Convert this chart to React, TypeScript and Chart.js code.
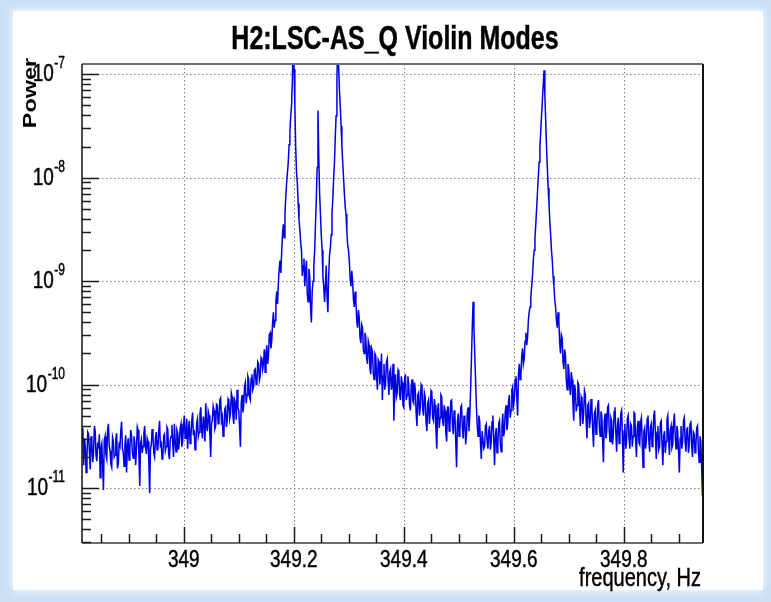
import React, { useEffect, useRef } from 'react';
import { Chart, registerables } from 'chart.js';

Chart.register(...registerables);

// ---- Data (frequency bins: FREQ_START + i * FREQ_STEP; values are log10(Power)) ----
const FREQ_START = 348.815;
const FREQ_STEP = 0.0015;

const X_MIN = 348.815;
const X_MAX = 349.944;
const LOG_MIN = -11.532;
const LOG_MAX = -6.9;

const TITLE = 'H2:LSC-AS_Q Violin Modes';
const X_TITLE = 'frequency, Hz';
const Y_TITLE = 'Power';
const X_MAJOR = [349, 349.2, 349.4, 349.6, 349.8];
const X_LABELS = ['349', '349.2', '349.4', '349.6', '349.8'];
const Y_EXPONENTS = [-7, -8, -9, -10, -11];

const bgLeft = [
  -10.55, -10.42, -10.78, -10.52, -10.60, -10.85, -10.70, -10.46, -10.48, -10.66, -10.82, -10.50, -10.58, -10.75, -10.66, -10.40, -10.45, -10.69, -10.74, -10.56,
  -10.62, -10.48, -10.90, -10.61, -10.57, -10.79, -11.02, -10.54, -10.50, -10.68, -10.72, -10.44, -10.38, -10.59, -10.64, -10.77, -10.80, -10.51, -10.55, -10.70,
  -10.68, -10.53, -10.47, -10.81, -10.76, -10.58, -10.60, -10.45, -10.36, -10.62, -10.66, -10.79, -10.58, -10.49, -10.85, -10.60, -10.52, -10.73, -10.63, -10.44,
  -10.49, -10.65, -10.71, -10.50, -10.56, -10.78, -10.62, -10.41, -10.44, -10.70, -10.98, -10.57, -10.53, -10.66, -10.60, -10.47, -10.40, -10.61, -10.67, -10.52,
  -10.55, -10.74, -11.05, -10.62, -10.58, -10.43, -10.49, -10.66, -10.70, -10.52, -10.46, -10.63, -10.61, -10.45, -10.35, -10.59, -10.57, -10.72, -10.68, -10.50,
  -10.48, -10.64, -10.60, -10.41, -10.43, -10.67, -10.72, -10.53, -10.50, -10.39, -10.58, -10.70, -10.38, -10.55, -10.65, -10.44, -10.47, -10.63, -10.55, -10.42,
];
const riseLeft = [
  -10.38, -10.60, -10.55, -10.40, -10.30, -10.52, -10.48, -10.33, -10.62, -10.45, -10.35, -10.57, -10.50, -10.36, -10.27, -10.49, -10.44, -10.63, -10.58, -10.37,
  -10.33, -10.50, -10.46, -10.28, -10.22, -10.44, -10.52, -10.31, -10.36, -10.55, -10.18, -10.40, -10.45, -10.26, -10.30, -10.48, -10.70, -10.38, -10.34, -10.21,
  -10.25, -10.43, -10.40, -10.19, -10.20, -10.38, -10.36, -10.15, -10.13, -10.35, -10.31, -10.50, -10.46, -10.24, -10.22, -10.41, -10.35, -10.14, -10.16, -10.33,
  -10.28, -10.08, -10.12, -10.31, -10.38, -10.15, -10.18, -10.34, -10.05, -10.22, -10.25, -10.42, -10.60, -10.17, -10.10, -10.27, -10.20, -10.02, -9.98, -10.18,
  -10.10, -9.92, -9.95, -10.12, -10.15, -9.94, -9.90, -10.05, -10.02, -9.86, -9.85, -10.00, -9.98, -9.78, -9.80, -9.96, -9.92, -9.74, -9.76, -9.85,
];
const peakA = [
  -9.78, -9.66, -9.88, -9.70, -9.62, -9.80, -9.72, -9.52, -9.50, -9.65, -9.58, -9.40, -9.30, -9.45, -9.38, -9.20, -9.10, -9.22, -9.02, -8.88,
  -8.80, -8.92, -8.72, -8.55, -8.45, -8.58, -8.35, -8.18, -8.05, -7.95, -7.85, -7.68, -7.55, -7.40, -7.30, -7.05, -6.60, -6.95,
];
const peakB = [
  -7.30, -7.70, -7.95, -8.05, -8.25, -8.40, -8.50, -8.62, -8.70, -8.95, -8.85, -8.78, -9.05, -8.90, -8.80, -9.12, -9.20, -8.88, -8.95, -9.25,
  -9.40, -9.10, -9.00, -8.85, -8.70, -8.45, -8.20, -7.90, -7.35, -7.80, -8.15, -8.35, -8.55, -8.70, -8.95, -9.05,
];
const peakC = [-9.20, -9.05, -8.85, -9.15, -9.30, -8.95, -8.75, -8.68, -8.55, -8.35, -8.20, -8.00, -7.85, -7.60, -7.40, -7.05, -6.60, -6.90];
const tailC = [
  -7.15, -7.30, -7.50, -7.70, -7.85, -8.00, -8.15, -8.28, -8.35, -8.52, -8.65, -8.70, -8.80, -8.98, -9.05, -8.90, -9.00, -9.18, -9.25, -9.10,
  -9.20, -9.38, -9.45, -9.28, -9.35, -9.55, -9.60, -9.42, -9.45, -9.66, -9.70, -9.50, -9.55, -9.75, -9.80, -9.58, -9.62, -9.85, -9.90, -9.65,
  -9.68, -9.88, -9.95, -9.70, -9.72, -9.92, -10.05, -9.76, -9.78, -10.00, -9.90, -9.70, -10.15, -9.92, -9.80, -10.05, -9.98, -9.78, -9.75, -9.96,
  -10.10, -9.88, -9.85, -10.05, -10.00, -9.80, -10.35, -10.02, -9.90, -10.12, -10.08, -9.86, -9.88, -10.10, -10.15, -9.92, -9.98, -10.20, -10.22, -9.95,
  -9.90, -10.15, -10.10, -9.92, -10.00, -10.20, -10.25, -10.02, -9.95, -10.16, -10.18, -9.98, -10.05, -10.28, -10.40, -10.10, -10.08, -10.30, -10.22, -10.00,
  -10.02, -10.25, -10.30, -10.08, -10.12, -10.36, -10.45, -10.18, -10.15, -10.38, -10.28, -10.06, -10.08, -10.32, -10.35, -10.14, -10.20, -10.44, -10.62, -10.25,
  -10.18, -10.42, -10.32, -10.10, -10.12, -10.35, -10.40, -10.20, -10.25, -10.47, -10.55, -10.22, -10.22, -10.45, -10.38, -10.16, -10.15, -10.40, -10.48, -10.25,
  -10.30, -10.55, -10.80, -10.36, -10.28, -10.50, -10.45, -10.22, -10.20, -10.42, -10.52, -10.30, -10.35, -10.58, -10.48, -10.27, -10.22, -10.45,
];
const peakD = [
  -10.30, -10.05, -9.75, -9.45, -9.20, -9.45, -9.70, -9.95, -10.20, -10.40, -10.50, -10.30, -10.35, -10.58, -10.72, -10.45, -10.45, -10.62, -10.60, -10.40,
  -10.38, -10.55,
];
const peakE = [
  -10.62, -10.45, -10.40, -10.63, -10.55, -10.36, -10.30, -10.52, -10.78, -10.50, -10.42, -10.66, -10.58, -10.38, -10.35, -10.57, -10.65, -10.40, -10.28, -10.50,
  -10.45, -10.26, -10.20, -10.44, -10.38, -10.16, -10.10, -10.32, -10.25, -10.05, -10.02, -10.20, -10.15, -9.95, -9.92, -10.12, -10.30, -9.90, -9.80, -9.95,
  -9.90, -9.72, -9.65, -9.80, -9.75, -9.58, -9.50, -9.62, -9.55, -9.38, -9.30, -9.25, -9.15, -9.05, -8.95, -8.80, -8.70, -8.58, -8.45, -8.30,
  -8.15, -8.00, -7.85, -7.70, -7.55, -7.40, -7.25, -7.10, -6.96, -7.20,
];
const tailE = [
  -7.45, -7.70, -7.90, -8.10, -8.25, -8.42, -8.55, -8.70, -8.80, -8.95, -9.05, -9.18, -9.25, -9.38, -9.45, -9.30, -9.40, -9.60, -9.70, -9.52,
  -9.55, -9.78, -9.85, -9.66, -9.72, -9.95, -10.05, -9.80, -9.85, -10.02, -10.10, -9.88, -9.95, -10.18, -10.35, -10.00, -10.05, -10.26, -10.20, -9.98,
  -10.00, -10.22, -10.40, -10.12, -10.15, -10.38, -10.28, -10.06, -10.10, -10.33, -10.52, -10.20, -10.18, -10.42, -10.35, -10.14, -10.22, -10.45, -10.60, -10.28,
  -10.25, -10.48, -10.42, -10.20, -10.15, -10.40, -10.50, -10.26, -10.30, -10.55, -10.75, -10.35, -10.28, -10.52, -10.45, -10.22, -10.20, -10.44, -10.55, -10.32,
  -10.35, -10.58, -10.48, -10.26, -10.22, -10.46, -10.65, -10.40, -10.32, -10.57, -10.50, -10.28, -10.25, -10.50, -10.85, -10.45, -10.38, -10.62, -10.55, -10.33,
  -10.30, -10.52, -10.62, -10.38, -10.40, -10.60, -10.50, -10.27, -10.28, -10.53, -10.70, -10.42, -10.35, -10.56, -10.58, -10.36, -10.32, -10.55, -10.80, -10.45,
  -10.42, -10.62, -10.55, -10.33, -10.30, -10.54, -10.65, -10.41, -10.38, -10.60, -10.52, -10.30, -10.25, -10.48, -10.72, -10.46, -10.40, -10.63, -10.60, -10.37,
  -10.35, -10.57, -10.78, -10.50, -10.45, -10.66, -10.55, -10.34, -10.30, -10.52, -10.68, -10.44, -10.40, -10.61, -10.58, -10.36, -10.28, -10.50, -10.62, -10.40,
  -10.45, -10.64, -10.85, -10.52, -10.40, -10.62, -10.55, -10.35, -10.32, -10.56, -10.65, -10.43, -10.42, -10.66, -10.58, -10.38, -10.35, -10.60, -10.70, -10.46,
  -10.48, -10.66, -10.60, -10.42, -10.40, -10.62, -10.75, -10.50, -10.55, -10.80, -11.08,
];

const logPower = [...bgLeft, ...riseLeft, ...peakA, ...peakB, ...peakC, ...tailC, ...peakD, ...peakE, ...tailE];

const SY = 1.3; // vertical stretch of text as in the reference picture
const FONT = '"Liberation Sans", Arial, Helvetica, sans-serif';

function drawText(ctx: CanvasRenderingContext2D, text: string, x: number, y: number, font: string, align: CanvasTextAlign) {
  ctx.save();
  ctx.translate(x, y);
  ctx.scale(1, SY);
  ctx.font = font;
  ctx.textAlign = align;
  ctx.textBaseline = 'alphabetic';
  ctx.fillStyle = '#000';
  ctx.strokeStyle = '#000';
  ctx.lineWidth = 0.35;
  ctx.fillText(text, 0, 0);
  ctx.strokeText(text, 0, 0);
  ctx.restore();
}

const rootStyle = {
  id: 'rootStyle',
  beforeDraw(chart: any) {
    const { ctx, width, height } = chart;
    ctx.save();
    ctx.fillStyle = '#cadff6';
    ctx.fillRect(0, 0, width, height);
    ctx.shadowColor = '#ffffff';
    ctx.shadowBlur = 10;
    ctx.fillStyle = '#ffffff';
    ctx.fillRect(13, 11, 750, 579);
    ctx.restore();
  },
  beforeDatasetsDraw(chart: any) {
    const { ctx, chartArea: a, scales } = chart;
    const xs = scales.x, ys = scales.y;
    ctx.save();
    ctx.strokeStyle = '#808080';
    ctx.lineWidth = 1;
    ctx.setLineDash([1.5, 2.5]);
    X_MAJOR.forEach((v) => {
      const px = Math.round(xs.getPixelForValue(v)) + 0.5;
      ctx.beginPath(); ctx.moveTo(px, a.top); ctx.lineTo(px, a.bottom); ctx.stroke();
    });
    Y_EXPONENTS.forEach((e) => {
      const py = Math.round(ys.getPixelForValue(Math.pow(10, e))) + 0.5;
      ctx.beginPath(); ctx.moveTo(a.left, py); ctx.lineTo(a.right, py); ctx.stroke();
    });
    ctx.restore();
  },
  afterDatasetsDraw(chart: any) {
    const { ctx, chartArea: a, scales } = chart;
    const xs = scales.x, ys = scales.y;
    ctx.save();
    // frame
    ctx.strokeStyle = '#6e6e6e';
    ctx.lineWidth = 2;
    ctx.beginPath(); ctx.moveTo(a.left, a.top); ctx.lineTo(a.right, a.top); ctx.stroke();
    ctx.beginPath(); ctx.moveTo(a.left, a.bottom); ctx.lineTo(a.right, a.bottom); ctx.stroke();
    ctx.strokeStyle = '#111';
    ctx.lineWidth = 1.5;
    ctx.beginPath(); ctx.moveTo(a.left, a.top); ctx.lineTo(a.left, a.bottom); ctx.stroke();
    ctx.lineWidth = 2;
    ctx.beginPath(); ctx.moveTo(a.right, a.top); ctx.lineTo(a.right, a.bottom); ctx.stroke();

    // y ticks (log)
    ctx.strokeStyle = '#1a1a1a';
    ctx.lineWidth = 1.5;
    for (let n = -12; n <= -7; n++) {
      for (let m = 1; m <= 9; m++) {
        const v = m * Math.pow(10, n);
        const lv = Math.log10(v);
        if (lv < LOG_MIN || lv > LOG_MAX) continue;
        const py = Math.round(ys.getPixelForValue(v)) + 0.5;
        const len = m === 1 ? 17 : 9;
        ctx.beginPath(); ctx.moveTo(a.left, py); ctx.lineTo(a.left + len, py); ctx.stroke();
      }
    }
    // x ticks
    for (let k = 0; k <= 30; k++) {
      const v = 348.8 + 0.05 * k;
      if (v < X_MIN || v > X_MAX + 1e-9) continue;
      const isMajor = Math.abs((v - 349) / 0.2 - Math.round((v - 349) / 0.2)) < 1e-6;
      const px = Math.round(xs.getPixelForValue(v)) + 0.5;
      const len = isMajor ? 16 : 9;
      ctx.beginPath(); ctx.moveTo(px, a.bottom); ctx.lineTo(px, a.bottom - len); ctx.stroke();
    }
    ctx.restore();

    // labels
    X_MAJOR.forEach((v, i) => {
      drawText(ctx, X_LABELS[i], xs.getPixelForValue(v), 567, `19px ${FONT}`, 'center');
    });
    Y_EXPONENTS.forEach((e) => {
      const py = ys.getPixelForValue(Math.pow(10, e));
      const sup = String(e);
      ctx.save();
      ctx.font = `12px ${FONT}`;
      const supW = ctx.measureText(sup).width;
      ctx.restore();
      const right = 65;
      drawText(ctx, sup, right, py - 6, `12px ${FONT}`, 'right');
      drawText(ctx, '10', right - supW - 0.5, py + 7, `19px ${FONT}`, 'right');
    });
    drawText(ctx, X_TITLE, 701, 586, `20px ${FONT}`, 'right');
    drawText(ctx, TITLE, 395, 49, `bold 25px ${FONT}`, 'center');

    // rotated y title
    ctx.save();
    ctx.translate(36, 58);
    ctx.scale(1, SY);
    ctx.rotate(-Math.PI / 2);
    ctx.font = `bold 18px ${FONT}`;
    ctx.textAlign = 'right';
    ctx.textBaseline = 'alphabetic';
    ctx.fillStyle = '#000';
    ctx.fillText(Y_TITLE, 0, 0);
    ctx.restore();
  },
};

export default function App() {
  const canvasRef = useRef<HTMLCanvasElement | null>(null);

  useEffect(() => {
    const canvas = canvasRef.current;
    if (!canvas) return;
    const points = logPower.map((lp, i) => ({
      x: FREQ_START + i * FREQ_STEP,
      y: Math.pow(10, lp),
    }));
    const chart = new Chart(canvas, {
      type: 'line',
      data: {
        datasets: [
          {
            data: points,
            borderColor: '#0000e6',
            borderWidth: 1.5,
            borderJoinStyle: 'miter',
            pointRadius: 0,
            tension: 0,
            fill: false,
          },
        ],
      },
      options: {
        animation: false,
        responsive: false,
        devicePixelRatio: 1,
        layout: { padding: { left: 82, right: 68, top: 64, bottom: 59 } },
        scales: {
          x: { type: 'linear', min: X_MIN, max: X_MAX, display: false },
          y: { type: 'logarithmic', min: Math.pow(10, LOG_MIN), max: Math.pow(10, LOG_MAX), display: false },
        },
        plugins: {
          legend: { display: false },
          title: { display: false },
          tooltip: { enabled: false },
        },
      },
      plugins: [rootStyle],
    });
    return () => chart.destroy();
  }, []);

  return (
    <div style={{ position: 'absolute', left: 0, top: 0, width: 771, height: 602 }}>
      <canvas ref={canvasRef} width={771} height={602} style={{ display: 'block', width: 771, height: 602 }} />
    </div>
  );
}
